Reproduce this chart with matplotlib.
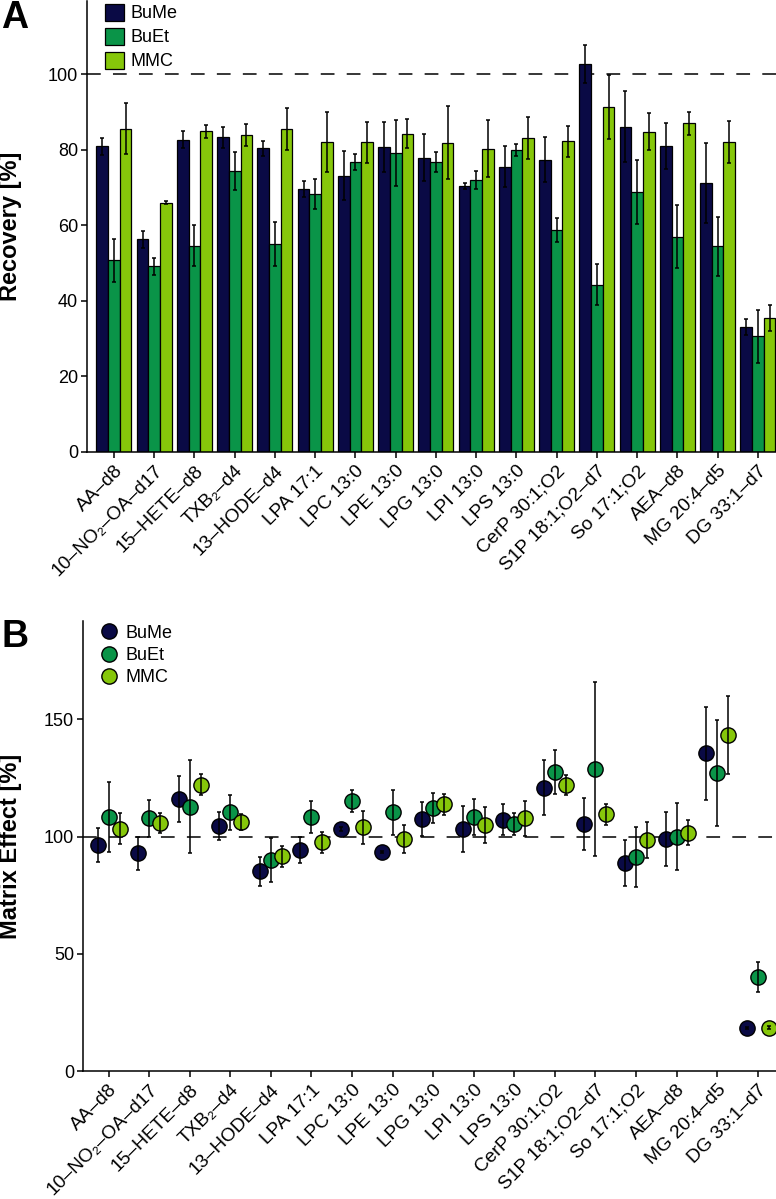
import numpy as np
import matplotlib
matplotlib.use("Agg")
import matplotlib.pyplot as plt

plt.rcParams["font.family"] = ["Liberation Sans", "DejaVu Sans"]

labels = ["AA–d8", "10–NO₂–OA–d17", "15–HETE–d8", "TXB₂–d4", "13–HODE–d4",
          "LPA 17:1", "LPC 13:0", "LPE 13:0", "LPG 13:0", "LPI 13:0", "LPS 13:0",
          "CerP 30:1;O2", "S1P 18:1;O2–d7", "So 17:1;O2", "AEA–d8",
          "MG 20:4–d5", "DG 33:1–d7"]
series = ["BuMe", "BuEt", "MMC"]
colors = ["#0a0a45", "#0a9448", "#86c70a"]

# recovery [%] and SD
rec_bume = [80.9, 56.3, 82.7, 83.3, 80.4, 69.6, 73.1, 80.7, 77.9, 70.4, 75.5, 77.4, 102.7, 86.1, 81.0, 71.2, 33.0]
rec_bume_sd = [2.2, 2.2, 2.3, 2.8, 2.0, 2.1, 6.5, 6.7, 6.3, 0.8, 5.5, 5.9, 5.0, 9.4, 6.1, 10.6, 2.1]
rec_buet = [50.7, 49.1, 54.6, 74.4, 55.0, 68.2, 76.7, 79.1, 76.7, 72.0, 79.9, 58.8, 44.3, 68.8, 57.0, 54.4, 30.6]
rec_buet_sd = [5.8, 2.3, 5.4, 5.0, 5.8, 4.0, 2.2, 8.8, 2.7, 2.3, 1.6, 3.1, 5.5, 8.4, 8.3, 7.9, 7.1]
rec_mmc = [85.6, 65.9, 84.9, 83.8, 85.5, 82.1, 82.0, 84.2, 81.9, 80.3, 83.1, 82.2, 91.4, 84.7, 87.0, 82.1, 35.4]
rec_mmc_sd = [6.7, 0.4, 1.7, 2.9, 5.6, 8.0, 5.4, 3.8, 9.7, 7.6, 5.5, 4.0, 8.5, 4.9, 3.1, 5.5, 3.4]

# matrix effect [%] and SD
me_bume = [96.4, 92.9, 116.1, 104.4, 85.2, 94.3, 103.4, 93.4, 107.5, 103.4, 107.3, 120.8, 105.4, 88.7, 99.0, 135.5, 18.4]
me_bume_sd = [7.3, 7.1, 9.7, 6.0, 6.3, 5.4, 0.8, 0.5, 7.4, 9.8, 6.8, 11.7, 11.0, 9.8, 11.4, 19.9, 0.5]
me_buet = [108.4, 107.8, 112.7, 110.3, 90.2, 108.4, 115.2, 110.3, 112.3, 108.3, 105.4, 127.4, 128.8, 91.3, 100.0, 127.1, 40.0]
me_buet_sd = [15.1, 7.9, 19.8, 7.4, 9.4, 7.0, 4.5, 9.4, 6.3, 7.7, 4.8, 9.4, 37.0, 12.7, 14.2, 22.5, 6.4]
me_mmc = [103.4, 105.8, 122.2, 106.1, 91.6, 97.6, 104.0, 98.9, 113.8, 104.8, 107.8, 122.2, 109.5, 98.7, 101.7, 143.4, 18.4]
me_mmc_sd = [6.6, 4.4, 4.6, 3.4, 4.6, 4.4, 7.1, 6.0, 4.4, 7.7, 7.4, 4.3, 4.6, 7.7, 5.4, 16.7, 0.6]

rec = [(rec_bume, rec_bume_sd), (rec_buet, rec_buet_sd), (rec_mmc, rec_mmc_sd)]
me = [(me_bume, me_bume_sd), (me_buet, me_buet_sd), (me_mmc, me_mmc_sd)]

x = np.arange(len(labels))
W = 776 / 100
H = 1199 / 100
fig = plt.figure(figsize=(W, H), dpi=100)

axA = fig.add_axes([87 / 776, 1 - 452 / 1199, 1 - 87 / 776, 452 / 1199 - 0.001])
axB = fig.add_axes([83 / 776, 1 - 1071 / 1199, 1 - 83 / 776, 450 / 1199])

lw = 1.1
dash = (0, (9, 8))

# panel A: bars
bw = 0.29
for i, ((vals, sd), name, c) in enumerate(zip(rec, series, colors)):
    axA.bar(x + (i - 1) * bw, vals, bw, color=c, edgecolor="black", linewidth=0.9,
            label=name, zorder=2)
    axA.errorbar(x + (i - 1) * bw, vals, yerr=sd, fmt="none", ecolor="black",
                 elinewidth=lw, capsize=1.6, capthick=lw, zorder=3)
axA.axhline(100, color="black", lw=lw, ls=dash, zorder=1)
axA.set_ylim(0, 119.3)
axA.set_xlim(-0.67, 16.45)
axA.set_yticks([0, 20, 40, 60, 80, 100])
axA.set_ylabel("Recovery [%]", fontsize=17, fontweight="bold")
axA.yaxis.set_label_coords(-0.094, 0.5)
axA.legend(loc="upper left", bbox_to_anchor=(0.022, 1.0), frameon=False, fontsize=13,
           handlelength=1.05, handleheight=1.05, handletextpad=0.35,
           labelspacing=0.3, borderaxespad=0.0, borderpad=0.15)

# panel B: points
off = 0.27
for i, ((vals, sd), name, c) in enumerate(zip(me, series, colors)):
    axB.plot(x + (i - 1) * off, vals, "o", ms=11, mfc=c, mec="black", mew=1.0,
             label=name, zorder=3, ls="none")
    axB.errorbar(x + (i - 1) * off, vals, yerr=sd, fmt="none", ecolor="black",
                 elinewidth=lw, capsize=1.4, capthick=lw, zorder=4)
axB.axhline(100, color="black", lw=lw, ls=dash, zorder=1)
axB.set_ylim(0, 192)
axB.set_xlim(-0.63, 16.45)
axB.set_yticks([0, 50, 100, 150])
axB.set_ylabel("Matrix Effect [%]", fontsize=17, fontweight="bold")
axB.yaxis.set_label_coords(-0.088, 0.5)
axB.legend(loc="upper left", bbox_to_anchor=(0.02, 1.0), frameon=False, fontsize=13,
           handlelength=1.0, handletextpad=0.4, labelspacing=0.3,
           borderaxespad=0.0, borderpad=0.2)

for ax in (axA, axB):
    for s in ("top", "right"):
        ax.spines[s].set_visible(False)
    for s in ("left", "bottom"):
        ax.spines[s].set_linewidth(lw)
    ax.tick_params(axis="both", direction="out", length=4.5, width=lw, labelsize=13, pad=2)
    ax.tick_params(axis="x", labelsize=13.8, pad=3)
    ax.set_xticks(x)
    ax.set_xticklabels(labels, rotation=45, ha="right", va="top", rotation_mode="anchor")

fig.text(0.002, 1 - 28 / 1199, "A", fontsize=27, fontweight="bold", ha="left", va="baseline")
fig.text(0.002, 1 - 647 / 1199, "B", fontsize=27, fontweight="bold", ha="left", va="baseline")

fig.savefig("out.png", dpi=100)
